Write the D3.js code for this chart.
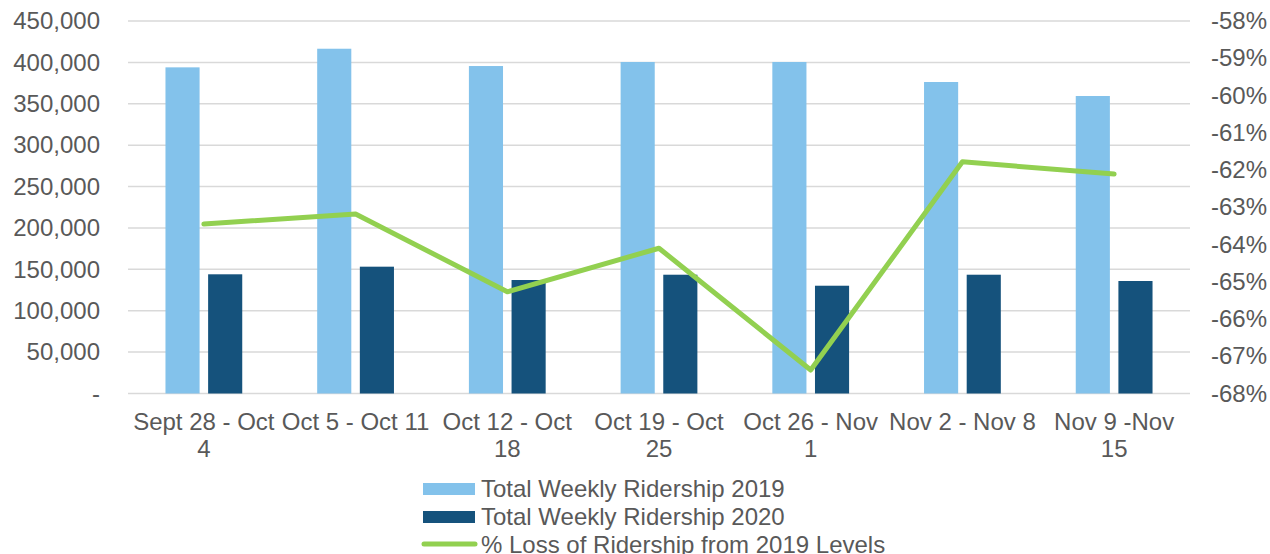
<!DOCTYPE html>
<html>
<head>
<meta charset="utf-8">
<script src="https://cdn.jsdelivr.net/npm/d3@7"></script>
<style>
  body { margin: 0; background: #fff; }
  text { font-family: "Liberation Sans", Arial, sans-serif; fill: #595959; }
</style>
</head>
<body>
<div class="canvas"></div>
<script>
// chart data
const weeks = ['Sept 28 - Oct 4', 'Oct 5 - Oct 11', 'Oct 12 - Oct 18', 'Oct 19 - Oct 25',
               'Oct 26 - Nov 1', 'Nov 2 - Nov 8', 'Nov 9 -Nov 15'];
const weekLines = [['Sept 28 - Oct', '4'], ['Oct 5 - Oct 11'], ['Oct 12 - Oct', '18'], ['Oct 19 - Oct', '25'],
                   ['Oct 26 - Nov', '1'], ['Nov 2 - Nov 8'], ['Nov 9 -Nov', '15']];
const ridership2019 = [394000, 416500, 395600, 400500, 400500, 376300, 359400];
const ridership2020 = [144000, 153200, 137100, 143500, 130200, 143500, 135900];
const pctLoss = [-63.45, -63.18, -65.27, -64.1, -67.37, -61.78, -62.11];
const leftTicks = [0, 50000, 100000, 150000, 200000, 250000, 300000, 350000, 400000, 450000];
const rightTicks = [-68, -67, -66, -65, -64, -63, -62, -61, -60, -59, -58];
const seriesNames = ['Total Weekly Ridership 2019', 'Total Weekly Ridership 2020', '% Loss of Ridership from 2019 Levels'];

const c2019 = '#83C2EB', c2020 = '#15527C', cLine = '#92D050';

const width = 1270, height = 554;
const margin = { top: 21, right: 80, bottom: 160.5, left: 128 };

const svg = d3.select('.canvas').append('svg')
  .attr('width', width)
  .attr('height', height);

const x = d3.scaleBand().domain(weeks).range([margin.left, width - margin.right]);
const xSub = d3.scaleBand().domain(['2019', '2020'])
  .range([x.bandwidth() * 0.247, x.bandwidth() * 0.753]).paddingInner(0.2);
const y = d3.scaleLinear().domain([0, 450000]).range([height - margin.bottom, margin.top]);
const y2 = d3.scaleLinear().domain([-68, -58]).range([height - margin.bottom, margin.top]);

// gridlines
svg.append('g').selectAll('line').data(leftTicks).join('line')
  .attr('x1', margin.left).attr('x2', width - margin.right)
  .attr('y1', d => y(d)).attr('y2', d => y(d))
  .attr('stroke', '#D9D9D9').attr('stroke-width', 1.5);

// left axis
const fmt = d => d === 0 ? '-' : d3.format(',')(d);
const yAxis = svg.append('g')
  .attr('transform', `translate(${margin.left},0)`)
  .call(d3.axisLeft(y).tickValues(leftTicks).tickFormat(fmt).tickSize(0).tickPadding(28));
yAxis.select('.domain').remove();
yAxis.selectAll('text').style('font-size', '24px').attr('fill', '#595959');

// right axis
const yAxis2 = svg.append('g')
  .attr('transform', `translate(${width - margin.right},0)`)
  .call(d3.axisRight(y2).tickValues(rightTicks).tickFormat(d => d + '%').tickSize(0).tickPadding(21));
yAxis2.select('.domain').remove();
yAxis2.selectAll('text').style('font-size', '24px').attr('fill', '#595959');

// bars
const groups = svg.append('g').selectAll('g').data(weeks).join('g')
  .attr('transform', d => `translate(${x(d)},0)`);
groups.append('rect')
  .attr('x', xSub('2019')).attr('width', xSub.bandwidth())
  .attr('y', (d, i) => y(ridership2019[i]))
  .attr('height', (d, i) => y(0) - y(ridership2019[i]))
  .attr('fill', c2019);
groups.append('rect')
  .attr('x', xSub('2020')).attr('width', xSub.bandwidth())
  .attr('y', (d, i) => y(ridership2020[i]))
  .attr('height', (d, i) => y(0) - y(ridership2020[i]))
  .attr('fill', c2020);

// line
const line = d3.line()
  .x((d, i) => x(weeks[i]) + x.bandwidth() / 2)
  .y(d => y2(d));
svg.append('path').datum(pctLoss)
  .attr('d', line)
  .attr('fill', 'none').attr('stroke', cLine).attr('stroke-width', 5)
  .attr('stroke-linecap', 'round').attr('stroke-linejoin', 'round');

// x labels
const xl = svg.append('g').selectAll('text').data(weeks).join('text')
  .attr('text-anchor', 'middle')
  .attr('x', d => x(d) + x.bandwidth() / 2)
  .attr('y', 430)
  .style('font-size', '24px');
xl.selectAll('tspan').data((d, i) => weekLines[i]).join('tspan')
  .attr('x', function () { return this.parentNode.getAttribute('x'); })
  .attr('dy', (d, i) => i === 0 ? 0 : 27)
  .text(d => d);

// legend
const lg = svg.append('g').attr('transform', 'translate(423,497)');
seriesNames.forEach((name, i) => {
  const row = lg.append('g').attr('transform', `translate(0,${i * 28})`);
  if (i < 2) {
    row.append('rect').attr('x', 0).attr('y', -14).attr('width', 52).attr('height', 12)
      .attr('fill', i === 0 ? c2019 : c2020);
  } else {
    row.append('line').attr('x1', 1).attr('x2', 52).attr('y1', -9).attr('y2', -9)
      .attr('stroke', cLine).attr('stroke-width', 5).attr('stroke-linecap', 'round');
  }
  row.append('text').attr('x', 58).attr('y', 0).style('font-size', '24px').text(name);
});
</script>
</body>
</html>
